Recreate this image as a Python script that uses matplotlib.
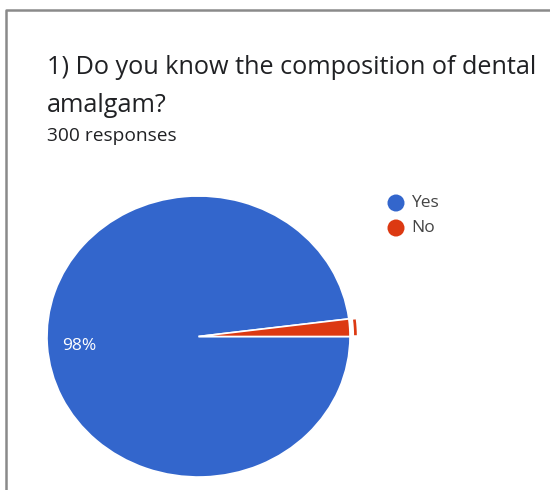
import math
import matplotlib
matplotlib.use("Agg")
import matplotlib.pyplot as plt
from matplotlib.patches import Wedge

# Survey answers
labels = ["Yes", "No"]
shares = [98, 2]
colors = ["#3366CC", "#DC3912"]
title_lines = ["1) Do you know the composition of dental", "amalgam?"]
subtitle = "300 responses"

W, H = 550, 490
fig = plt.figure(figsize=(W / 100, H / 100), dpi=100)
fig.patch.set_facecolor("white")

# Full-figure overlay in pixel coordinates for the card frame and text
bg = fig.add_axes([0, 0, 1, 1])
bg.set_xlim(0, W)
bg.set_ylim(H, 0)
bg.axis("off")
bg.plot([6, 6, W], [H, 10, 10], color="#8a8a8a", lw=1.8, solid_capstyle="butt")

font = "Open Sans"
bg.text(47, 67, title_lines[0], fontsize=18.2, family=font, color="#202124", va="center", ha="left")
bg.text(47, 105, title_lines[1], fontsize=18.2, family=font, color="#202124", va="center", ha="left")
bg.text(47, 136, subtitle, fontsize=13.8, family=font, color="#202124", va="center", ha="left")

# Legend
for i, (lab, col) in enumerate(zip(labels, colors)):
    y = 203 + i * 25
    bg.scatter([396], [y], s=150, color=col, edgecolors="none")
    bg.text(411, y, lab, fontsize=12.5, family=font, color="#444444", va="center", ha="left")

# Pie
left, right, top, bottom = 47, 350, 196, 477
pa = fig.add_axes([left / W, (H - bottom) / H, (right - left) / W, (bottom - top) / H])
start = 360 * shares[1] / 100
wedges, _ = pa.pie(shares, colors=colors, startangle=start, counterclock=True,
                   wedgeprops=dict(edgecolor="white", linewidth=1.2))
pa.set_aspect("auto")
pa.set_xlim(-1, 1)
pa.set_ylim(-1, 1)
for w in wedges:
    w.set_clip_on(False)

# Highlight ring around the small slice
ring = Wedge((0, 0), 1.045, wedges[1].theta1 + 0.5, wedges[1].theta2 - 0.5, width=0.018,
             facecolor=colors[1], edgecolor="none", clip_on=False)
pa.add_patch(ring)

# Percentage label inside the large slice
mid = (wedges[0].theta1 + wedges[0].theta2) / 2
r = 0.79
pa.text(r * math.cos(math.radians(mid)), r * math.sin(math.radians(mid)) - 0.02,
        f"{shares[0]}%", color="white", fontsize=12.5, family=font, ha="center", va="center")

fig.savefig("out.png", dpi=100, facecolor="white")
